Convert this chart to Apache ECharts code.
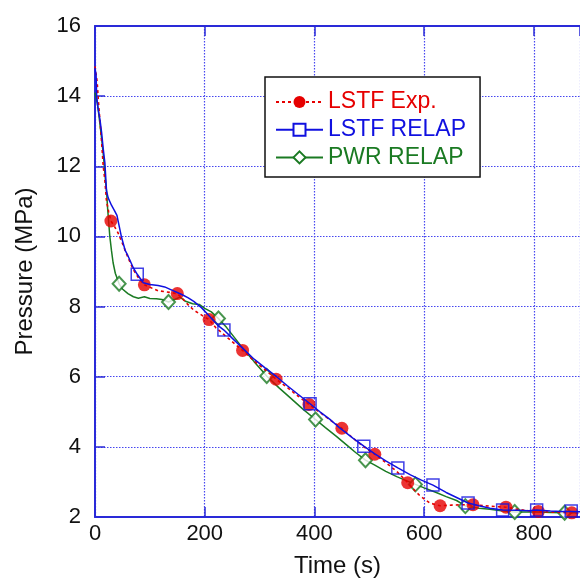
<!DOCTYPE html>
<html>
<head>
<meta charset="utf-8">
<script src="https://cdn.jsdelivr.net/npm/echarts@6/dist/echarts.min.js"></script>
<style>
html,body{margin:0;padding:0;background:#fff;}
#chart{width:580px;height:583px;}
</style>
</head>
<body>
<div id="chart"></div>
<script>
// LSTF experiment (dense line) and its markers
const expTime = [0,3,4,6,9,12,15,18,21,25,29,35,42,50,60,70,80,90,100,115,130,150,160,171,180,190,200,208,220,235,250,269,290,310,330,350,370,390,410,430,450,470,490,510,530,550,570,580,592,610,629,650,670,689,710,730,749,770,790,808,830,850,869,890];
const expPressure = [14.85,14.8,14.4,13.9,13.3,12.7,12.0,11.6,11.0,10.7,10.44,10.3,10.1,9.8,9.4,9.05,8.8,8.62,8.55,8.45,8.42,8.37,8.22,8.03,7.9,7.8,7.7,7.63,7.4,7.2,7.0,6.75,6.45,6.2,5.93,5.7,5.45,5.21,4.98,4.75,4.53,4.25,4.0,3.79,3.55,3.3,2.98,2.8,2.61,2.4,2.32,2.34,2.35,2.35,2.32,2.3,2.28,2.22,2.18,2.16,2.14,2.13,2.12,2.1];
const expMarkTime = [29,90,150,208,269,330,390,450,510,570,629,689,749,808,869];
const expMarkPressure = [10.44,8.62,8.37,7.63,6.75,5.93,5.21,4.53,3.79,2.98,2.32,2.35,2.28,2.16,2.12];

// LSTF RELAP
const lstfTime = [0,2,3,6,9,12,15,18,21,24,30,35,40,48,55,60,70,77,88,100,115,127,140,150,160,170,180,194,210,225,235,250,270,290,310,331,350,370,392,410,430,446,470,490,510,530,552,575,595,616,640,660,680,700,720,743,770,790,805,830,850,868,890];
const lstfPressure = [14.8,14.6,14.0,13.6,13.34,12.97,12.5,12.1,11.3,11.1,10.89,10.75,10.6,10.0,9.6,9.45,9.1,8.92,8.68,8.63,8.6,8.56,8.47,8.4,8.33,8.25,8.15,7.97,7.7,7.45,7.33,7.1,6.8,6.5,6.25,6.0,5.75,5.5,5.23,5.0,4.76,4.54,4.25,4.02,3.8,3.6,3.4,3.2,3.05,2.91,2.7,2.55,2.4,2.32,2.25,2.2,2.19,2.18,2.2,2.17,2.16,2.16,2.15];
const lstfMarkTime = [77,235,392,490,552,616,680,743,805,868];
const lstfMarkPressure = [8.92,7.33,5.23,4.02,3.4,2.91,2.4,2.2,2.2,2.17];

// PWR RELAP
const pwrTime = [0,2,4,6,9,12,15,17,19,21,23,25,27,30,33,37,44,50,60,70,79,90,100,112,122,134,145,155,165,178,190,200,212,225,240,255,270,290,313,335,355,380,402,420,440,459,475,493,510,530,550,565,584,600,622,640,659,676,700,720,740,765,790,810,830,856,880];
const pwrPressure = [14.1,14.1,13.8,13.6,13.2,12.8,12.35,12.0,11.6,11.3,10.8,10.4,10.0,9.6,9.25,8.95,8.65,8.5,8.37,8.28,8.24,8.28,8.23,8.22,8.2,8.13,8.2,8.27,8.15,8.08,8.06,7.95,7.85,7.66,7.4,7.1,6.8,6.43,6.02,5.69,5.41,5.06,4.78,4.55,4.3,4.05,3.84,3.62,3.48,3.3,3.15,3.05,2.93,2.83,2.7,2.58,2.47,2.31,2.25,2.22,2.18,2.14,2.14,2.14,2.13,2.12,2.12];
const pwrMarkTime = [44,134,225,313,402,493,584,675,765,856];
const pwrMarkPressure = [8.65,8.13,7.66,6.02,4.78,3.62,2.93,2.31,2.14,2.12];

const xTicks = [0,200,400,600,800];
const yTicks = [2,4,6,8,10,12,14,16];

const zip = (a, b) => a.map((v, i) => [v, b[i]]);
const RED = '#e60000', BLUE = '#1010e0', GREEN = '#1a7a22', FRAME = '#2a2ad8', GRIDC = '#4646f0';
const FONT = '"Liberation Sans", Arial, sans-serif';
const X_MAX = 884; // visible end of the cropped time axis

const chart = echarts.init(document.getElementById('chart'), null, {renderer: 'canvas'});
const axisCommon = {
  axisLine: {show: true, lineStyle: {color: FRAME, width: 2}},
  axisTick: {show: true, inside: true, length: 10, lineStyle: {color: FRAME, width: 1.5}},
  splitLine: {show: true, lineStyle: {color: GRIDC, type: [1.5, 1.5], width: 1.2}}
};
chart.setOption({
  backgroundColor: '#fff',
  animation: false,
  grid: {left: 95, top: 26, right: 0, bottom: 61.5, show: false, containLabel: false},
  xAxis: [{
    type: 'value', min: 0, max: X_MAX, interval: 200,
    name: 'Time (s)', nameLocation: 'middle', nameGap: 37,
    nameTextStyle: {fontSize: 24, fontFamily: FONT, color: '#111'},
    axisLabel: {fontSize: 22, fontFamily: FONT, color: '#111', margin: 6, showMaxLabel: false,
      formatter: v => xTicks.includes(v) ? String(v) : ''},
    ...axisCommon
  }, {
    type: 'value', position: 'top', min: 0, max: X_MAX, interval: 200,
    axisLine: {show: true, lineStyle: {color: FRAME, width: 2}},
    axisTick: {show: true, inside: true, length: 10, lineStyle: {color: FRAME, width: 1.5}},
    axisLabel: {show: false}, splitLine: {show: false}
  }],
  yAxis: {
    type: 'value', min: 2, max: 16, interval: 2,
    name: 'Pressure (MPa)', nameLocation: 'middle', nameGap: 58, nameRotate: 90,
    nameTextStyle: {fontSize: 24, fontFamily: FONT, color: '#111'},
    axisLabel: {fontSize: 22, fontFamily: FONT, color: '#111', margin: 14,
      formatter: v => yTicks.includes(v) ? String(v) : ''},
    ...axisCommon
  },
  legend: {
    orient: 'vertical', left: 265, top: 77,
    padding: [13.5, 14, 8, 10],
    itemWidth: 47, itemHeight: 15, itemGap: 4.7,
    borderColor: '#111', borderWidth: 1.5, backgroundColor: '#fff',
    textStyle: {fontSize: 23, fontFamily: FONT, lineHeight: 22},
    data: [
      {name: 'LSTF Exp.', textStyle: {color: RED}},
      {name: 'LSTF RELAP', textStyle: {color: BLUE}},
      {name: 'PWR RELAP', textStyle: {color: GREEN}}
    ],
    z: 10
  },
  series: [
    {name: 'PWR RELAP', type: 'line', data: zip(pwrTime, pwrPressure), symbol: 'emptyDiamond', symbolSize: 13,
      showSymbol: false, lineStyle: {color: GREEN, width: 1.5}, itemStyle: {color: GREEN, borderWidth: 1.2}, z: 2},
    {name: 'pwr-marks', type: 'scatter', data: zip(pwrMarkTime, pwrMarkPressure), symbol: 'emptyDiamond', symbolSize: [13, 14],
      itemStyle: {color: GREEN, borderColor: GREEN, borderWidth: 1.2}, z: 2},
    {name: 'LSTF Exp.', type: 'line', data: zip(expTime, expPressure), symbol: 'circle', symbolSize: 13,
      showSymbol: false, lineStyle: {color: RED, width: 1.6, type: [3, 3]}, itemStyle: {color: RED}, z: 3},
    {name: 'exp-marks', type: 'scatter', data: zip(expMarkTime, expMarkPressure), symbol: 'circle', symbolSize: 13,
      itemStyle: {color: RED}, z: 3},
    {name: 'LSTF RELAP', type: 'line', data: zip(lstfTime, lstfPressure), symbol: 'emptyRect', symbolSize: 12,
      showSymbol: false, lineStyle: {color: BLUE, width: 1.5}, itemStyle: {color: BLUE, borderWidth: 1.2}, z: 4},
    {name: 'lstf-marks', type: 'scatter', data: zip(lstfMarkTime, lstfMarkPressure), symbol: 'rect', symbolSize: 12,
      itemStyle: {color: 'rgba(255,255,255,0)', borderColor: BLUE, borderWidth: 1.5}, z: 4}
  ]
});
</script>
</body>
</html>
